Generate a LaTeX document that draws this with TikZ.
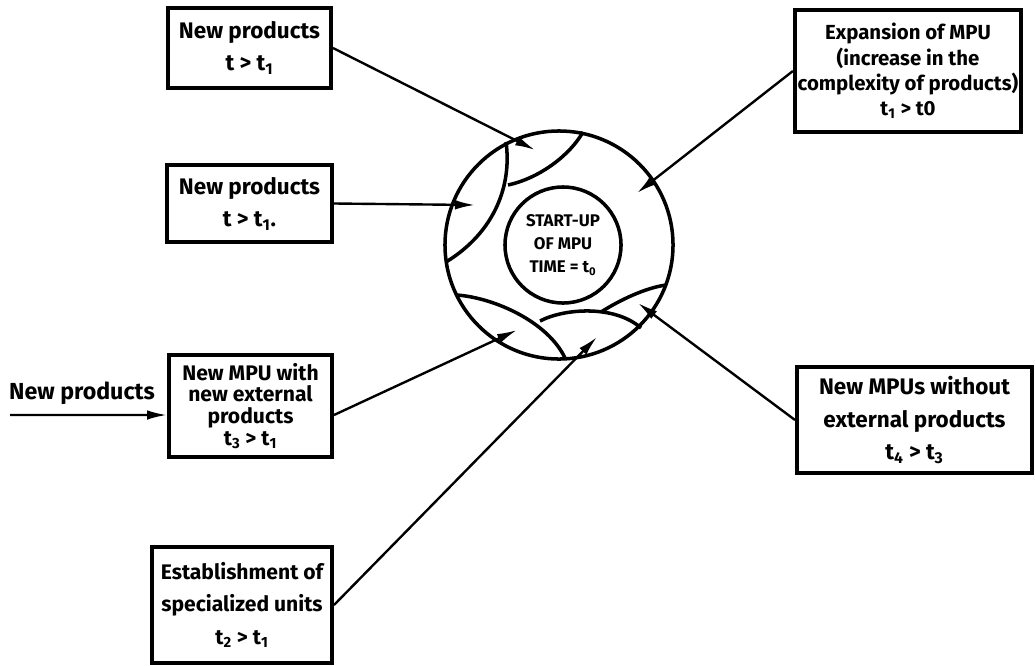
\documentclass[tikz,border=0pt]{standalone}
\usepackage{fontspec}
\setmainfont{Fira Sans}
\usetikzlibrary{arrows.meta}
\tikzset{
	unitbox/.style = {draw, line width = 2.8pt, rectangle, align = center, inner sep = 2pt, font = \bfseries\fontsize{16}{23}\selectfont},
	feed/.style = {line width = 1.7pt, -{Latex[length=5mm, width=2.4mm]}},
	ring/.style = {line width = 2.5pt}
}
\newcommand{\sub}[1]{\textsubscript{#1}}
\begin{document}
\begin{tikzpicture}[x = 0.025cm, y = -0.025cm]
		\useasboundingbox (0,0) rectangle (1036,665);
		
		%centre
		\node [circle, ring, draw, minimum size = 5.7cm] (hub) at (559,245) {};
		\node [circle, ring, draw, minimum size = 2.9cm, align = center, inner sep = 0pt, font = \bfseries\fontsize{12}{16.5}\selectfont] (startup) at (563,245) {START-UP\\OF MPU\\TIME = t\sub{0}};
		\draw [ring] (506,142) .. controls (512,185) and (495,232) .. (446,262);
		\draw [ring] (583,132) .. controls (570,155) and (540,178) .. (508,185);
		\draw [ring] (457,295) .. controls (495,298) and (548,322) .. (565,358);
		\draw [ring] (540,321) .. controls (565,308) and (615,305) .. (641,328);
		\draw [ring] (601,312) .. controls (620,300) and (645,288) .. (666,285);
		
		%boxes
		\node [unitbox, minimum width = 4.075cm, minimum height = 2.0cm] (newA) at (249.5,48) {New products\\t > t\sub{1}};
		\node [unitbox, minimum width = 4.125cm, minimum height = 1.925cm] (newB) at (249.5,203.5) {New products\\t > t\sub{1}.};
		\node [unitbox, minimum width = 4.075cm, minimum height = 2.55cm, font = \bfseries\fontsize{15}{15.5}\selectfont] (extmpu) at (250.5,406) {New MPU with\\new external\\products\\t\sub{3} > t\sub{1}};
		\node [unitbox, minimum width = 4.5cm, minimum height = 2.9cm, font = \bfseries\fontsize{15}{23}\selectfont] (special) at (242,605) {Establishment of\\specialized units\\t\sub{2} > t\sub{1}};
		\node [unitbox, minimum width = 5.5cm, minimum height = 3.05cm, font = \bfseries\fontsize{14.5}{18}\selectfont] (expand) at (908,71) {Expansion of MPU\\(increase in the\\complexity of products)\\t\sub{1} > t0};
		\node [unitbox, minimum width = 5.875cm, minimum height = 2.65cm] (nomore) at (914.5,420) {New MPUs without\\external products\\t\sub{4} > t\sub{3}};
		\node [font = \bfseries\fontsize{16.5}{19}\selectfont] (outside) at (82,393) {New products};
		
		%tips in the ring
		\coordinate (tipA) at (535,150);
		\coordinate (tipB) at (475,205);
		\coordinate (tipC) at (517,330);
		\coordinate (tipD) at (597,337);
		\coordinate (tipE) at (637,193);
		\coordinate (tipF) at (638,303);
		\coordinate (src) at (10,415);
		
		%connectors
		\draw [feed] (newA.east) -- (tipA);
		\draw [feed] (newB.east) -- (tipB);
		\draw [feed] ([yshift=-0.225cm]extmpu.east) -- (tipC);
		\draw [feed] (special.east) -- (tipD);
		\draw [feed] (expand.west) -- (tipE);
		\draw [feed] (nomore.west) -- (tipF);
		\draw [feed] (src) -- ([yshift=-0.225cm]extmpu.west);
	\end{tikzpicture}
\end{document}
